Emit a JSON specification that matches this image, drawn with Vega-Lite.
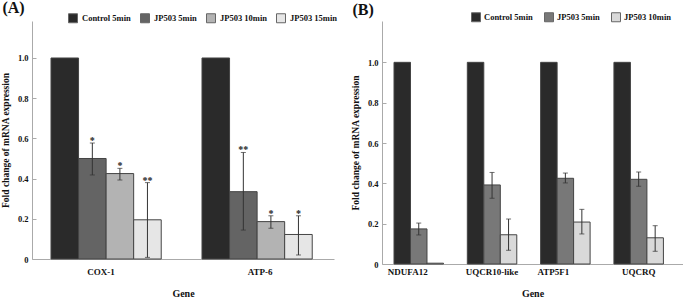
{
  "$schema": "https://vega.github.io/schema/vega-lite/v6.json",
  "background": "white",
  "padding": {"left": 0, "top": 0, "right": 0, "bottom": 0},
  "spacing": 13,
  "config": {
    "font": "Liberation Serif",
    "view": {"stroke": null},
    "axis": {"labelFont": "Liberation Serif", "titleFont": "Liberation Serif", "labelFontWeight": "bold", "titleFontWeight": "bold", "labelColor": "#111", "titleColor": "#111", "domainColor": "#aaa", "tickColor": "#aaa", "grid": false},
    "legend": {"labelFont": "Liberation Serif", "labelFontWeight": "bold", "labelFontSize": 8.5, "labelColor": "#111"},
    "title": {"font": "Liberation Serif", "fontWeight": "bold", "fontSize": 16, "color": "#111"}
  },
  "datasets": {
    "a": [
      {"gene": "COX-1", "group": "Control 5min", "value": 1.0, "lo": null, "hi": null, "sig": ""},
      {"gene": "COX-1", "group": "JP503 5min", "value": 0.50, "lo": 0.418, "hi": 0.577, "sig": "*"},
      {"gene": "COX-1", "group": "JP503 10min", "value": 0.425, "lo": 0.393, "hi": 0.451, "sig": "*"},
      {"gene": "COX-1", "group": "JP503 15min", "value": 0.195, "lo": 0.008, "hi": 0.38, "sig": "**"},
      {"gene": "ATP-6", "group": "Control 5min", "value": 1.0, "lo": null, "hi": null, "sig": ""},
      {"gene": "ATP-6", "group": "JP503 5min", "value": 0.335, "lo": 0.144, "hi": 0.53, "sig": "**"},
      {"gene": "ATP-6", "group": "JP503 10min", "value": 0.186, "lo": 0.153, "hi": 0.215, "sig": "*"},
      {"gene": "ATP-6", "group": "JP503 15min", "value": 0.122, "lo": 0.02, "hi": 0.215, "sig": "*"}
    ],
    "b": [
      {"gene": "NDUFA12", "group": "Control 5min", "value": 1.0, "lo": null, "hi": null},
      {"gene": "NDUFA12", "group": "JP503 5min", "value": 0.174, "lo": 0.144, "hi": 0.203},
      {"gene": "NDUFA12", "group": "JP503 10min", "value": 0.004, "lo": null, "hi": null},
      {"gene": "UQCR10-like", "group": "Control 5min", "value": 1.0, "lo": null, "hi": null},
      {"gene": "UQCR10-like", "group": "JP503 5min", "value": 0.392, "lo": 0.326, "hi": 0.454},
      {"gene": "UQCR10-like", "group": "JP503 10min", "value": 0.145, "lo": 0.068, "hi": 0.223},
      {"gene": "ATP5F1", "group": "Control 5min", "value": 1.0, "lo": null, "hi": null},
      {"gene": "ATP5F1", "group": "JP503 5min", "value": 0.425, "lo": 0.402, "hi": 0.451},
      {"gene": "ATP5F1", "group": "JP503 10min", "value": 0.208, "lo": 0.149, "hi": 0.271},
      {"gene": "UQCRQ", "group": "Control 5min", "value": 1.0, "lo": null, "hi": null},
      {"gene": "UQCRQ", "group": "JP503 5min", "value": 0.42, "lo": 0.385, "hi": 0.456},
      {"gene": "UQCRQ", "group": "JP503 10min", "value": 0.13, "lo": 0.063, "hi": 0.19}
    ]
  },
  "hconcat": [
    {
      "width": 302,
      "height": 238,
      "title": {"text": "(A)", "anchor": "start", "frame": "bounds", "dx": 2, "dy": 7},
      "data": {"name": "a"},
      "encoding": {
        "x": {"field": "gene", "type": "nominal", "sort": ["COX-1", "ATP-6"],
              "scale": {"domain": ["COX-1", "ATP-6"], "paddingInner": 0.27, "paddingOuter": 0.135, "align": 0.466},
              "axis": {"title": "Gene", "labelAngle": 0, "ticks": false, "labelPadding": 8, "labelFontSize": 9, "titleFontSize": 10, "titlePadding": 12,
                       "labelOffset": {"expr": "datum.value === 'COX-1' ? -5 : 3"}}},
        "xOffset": {"field": "group", "type": "nominal", "scale": {"domain": ["Control 5min", "JP503 5min", "JP503 10min", "JP503 15min"], "paddingInner": 0, "paddingOuter": 0}}
      },
      "layer": [
        {
          "mark": {"type": "bar", "stroke": "#444", "strokeWidth": 1},
          "encoding": {
            "y": {"field": "value", "type": "quantitative", "scale": {"domain": [0, 1.184], "nice": false},
                  "axis": {"title": "Fold change of mRNA expression", "values": [0, 0.2, 0.4, 0.6, 0.8, 1.0], "labelExpr": "datum.value == 0 ? '0' : format(datum.value, '.1f')", "tickSize": -4, "labelPadding": 8, "labelFontSize": 8.5, "titleFontSize": 9.5, "titlePadding": 7}},
            "color": {"field": "group", "type": "nominal",
                      "scale": {"domain": ["Control 5min", "JP503 5min", "JP503 10min", "JP503 15min"], "range": ["#2a2a2a", "#646464", "#b3b3b3", "#e6e6e6"]},
                      "legend": {"title": null, "orient": "none", "direction": "horizontal", "legendX": 36, "legendY": -8, "symbolType": "square", "symbolSize": 81, "symbolStrokeColor": "#666", "symbolStrokeWidth": 1, "labelOffset": 4, "columnPadding": 7}}
          }
        },
        {
          "mark": {"type": "rule", "color": "#333", "strokeWidth": 1},
          "encoding": {"y": {"field": "lo", "type": "quantitative"}, "y2": {"field": "hi"}}
        },
        {
          "mark": {"type": "tick", "color": "#333", "size": 5, "thickness": 1},
          "encoding": {"y": {"field": "lo", "type": "quantitative"}}
        },
        {
          "mark": {"type": "tick", "color": "#333", "size": 5, "thickness": 1},
          "encoding": {"y": {"field": "hi", "type": "quantitative"}}
        },
        {
          "mark": {"type": "text", "fontSize": 10, "fontWeight": "bold", "color": "#222", "baseline": "alphabetic", "dy": 1},
          "encoding": {"y": {"field": "hi", "type": "quantitative"}, "text": {"field": "sig"}}
        }
      ]
    },
    {
      "width": 301,
      "height": 243,
      "title": {"text": "(B)", "anchor": "start", "frame": "bounds", "dx": 2, "dy": 10},
      "data": {"name": "b"},
      "encoding": {
        "x": {"field": "gene", "type": "nominal", "sort": ["NDUFA12", "UQCR10-like", "ATP5F1", "UQCRQ"],
              "scale": {"domain": ["NDUFA12", "UQCR10-like", "ATP5F1", "UQCRQ"], "paddingInner": 0.325, "paddingOuter": 0.2155, "align": 0.38},
              "axis": {"title": "Gene", "labelAngle": 0, "ticks": false, "labelPadding": 3, "labelFontSize": 9, "titleFontSize": 10, "titlePadding": 12,
                       "labelOffset": {"expr": "datum.value === 'NDUFA12' ? -11 : datum.value === 'ATP5F1' ? -12 : 0"}}},
        "xOffset": {"field": "group", "type": "nominal", "scale": {"domain": ["Control 5min", "JP503 5min", "JP503 10min"], "paddingInner": 0, "paddingOuter": 0}}
      },
      "layer": [
        {
          "mark": {"type": "bar", "stroke": "#444", "strokeWidth": 1},
          "encoding": {
            "y": {"field": "value", "type": "quantitative", "scale": {"domain": [0, 1.205], "nice": false},
                  "axis": {"title": "Fold change of mRNA expression", "values": [0, 0.2, 0.4, 0.6, 0.8, 1.0], "labelExpr": "datum.value == 0 ? '0' : format(datum.value, '.1f')", "tickSize": -4, "labelPadding": 8, "labelFontSize": 8.5, "titleFontSize": 9.5, "titlePadding": 7}},
            "color": {"field": "group", "type": "nominal",
                      "scale": {"domain": ["Control 5min", "JP503 5min", "JP503 10min"], "range": ["#2a2a2a", "#787878", "#d9d9d9"]},
                      "legend": {"title": null, "orient": "none", "direction": "horizontal", "legendX": 89, "legendY": -9, "symbolType": "square", "symbolSize": 81, "symbolStrokeColor": "#666", "symbolStrokeWidth": 1, "labelOffset": 3, "columnPadding": 9}}
          }
        },
        {
          "mark": {"type": "rule", "color": "#333", "strokeWidth": 1},
          "encoding": {"y": {"field": "lo", "type": "quantitative"}, "y2": {"field": "hi"}}
        },
        {
          "mark": {"type": "tick", "color": "#333", "size": 5, "thickness": 1},
          "encoding": {"y": {"field": "lo", "type": "quantitative"}}
        },
        {
          "mark": {"type": "tick", "color": "#333", "size": 5, "thickness": 1},
          "encoding": {"y": {"field": "hi", "type": "quantitative"}}
        }
      ]
    }
  ],
  "resolve": {"scale": {"color": "independent", "x": "independent", "y": "independent", "xOffset": "independent"}}
}
